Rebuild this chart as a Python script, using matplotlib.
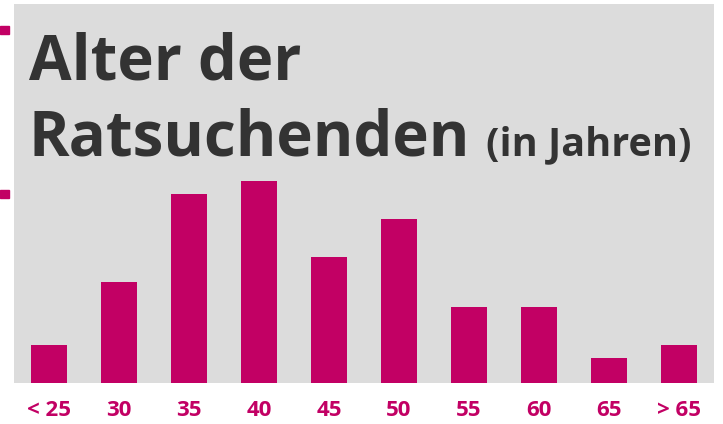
import matplotlib
matplotlib.use('Agg')
import matplotlib.pyplot as plt
from matplotlib.patches import Rectangle

# Daten
altersgruppen = ['< 25', '30', '35', '40', '45', '50', '55', '60', '65', '> 65']
anzahl = [3, 8, 15, 16, 10, 13, 6, 6, 2, 3]

magenta = '#C20064'
grau = '#DCDCDC'
text_farbe = '#333333'
schrift = 'Open Sans'

W, H = 723, 424
fig = plt.figure(figsize=(W / 100, H / 100), dpi=100)
fig.patch.set_facecolor('white')

# Panel von x=14..714, y=4..383 (Pixel)
ax = fig.add_axes([14 / W, (H - 383) / H, 700 / W, 379 / H])
ax.set_facecolor(grau)
pos = list(range(len(altersgruppen)))
ax.bar(pos, anzahl, width=0.514, color=magenta)
ax.set_xlim(-0.5, 9.5)
ax.set_ylim(0, 30)
ax.set_yticks([])
ax.set_xticks(pos)
ax.set_xticklabels(altersgruppen, color=magenta, fontsize=16,
                   fontweight='bold', family=schrift)
ax.tick_params(axis='x', length=0, pad=12)
for s in ax.spines.values():
    s.set_visible(False)

# Titel
ax.text(29 / W, (H - 80) / H, 'Alter der', transform=fig.transFigure,
        fontsize=44.5, fontweight='bold', family=schrift, color=text_farbe)
ax.text(29 / W, (H - 155) / H, 'Ratsuchenden', transform=fig.transFigure,
        fontsize=44.5, fontweight='bold', family=schrift, color=text_farbe)
ax.text(486 / W, (H - 155) / H, '(in Jahren)', transform=fig.transFigure,
        fontsize=28.5, fontweight='bold', family=schrift, color=text_farbe)

# kleine Markierungen am linken Rand
for y0 in [26, 190]:
    fig.patches.append(Rectangle((0, (H - y0 - 8) / H), 9 / W, 8 / H,
                                 transform=fig.transFigure, color=magenta))

fig.savefig('out.png', dpi=100)
